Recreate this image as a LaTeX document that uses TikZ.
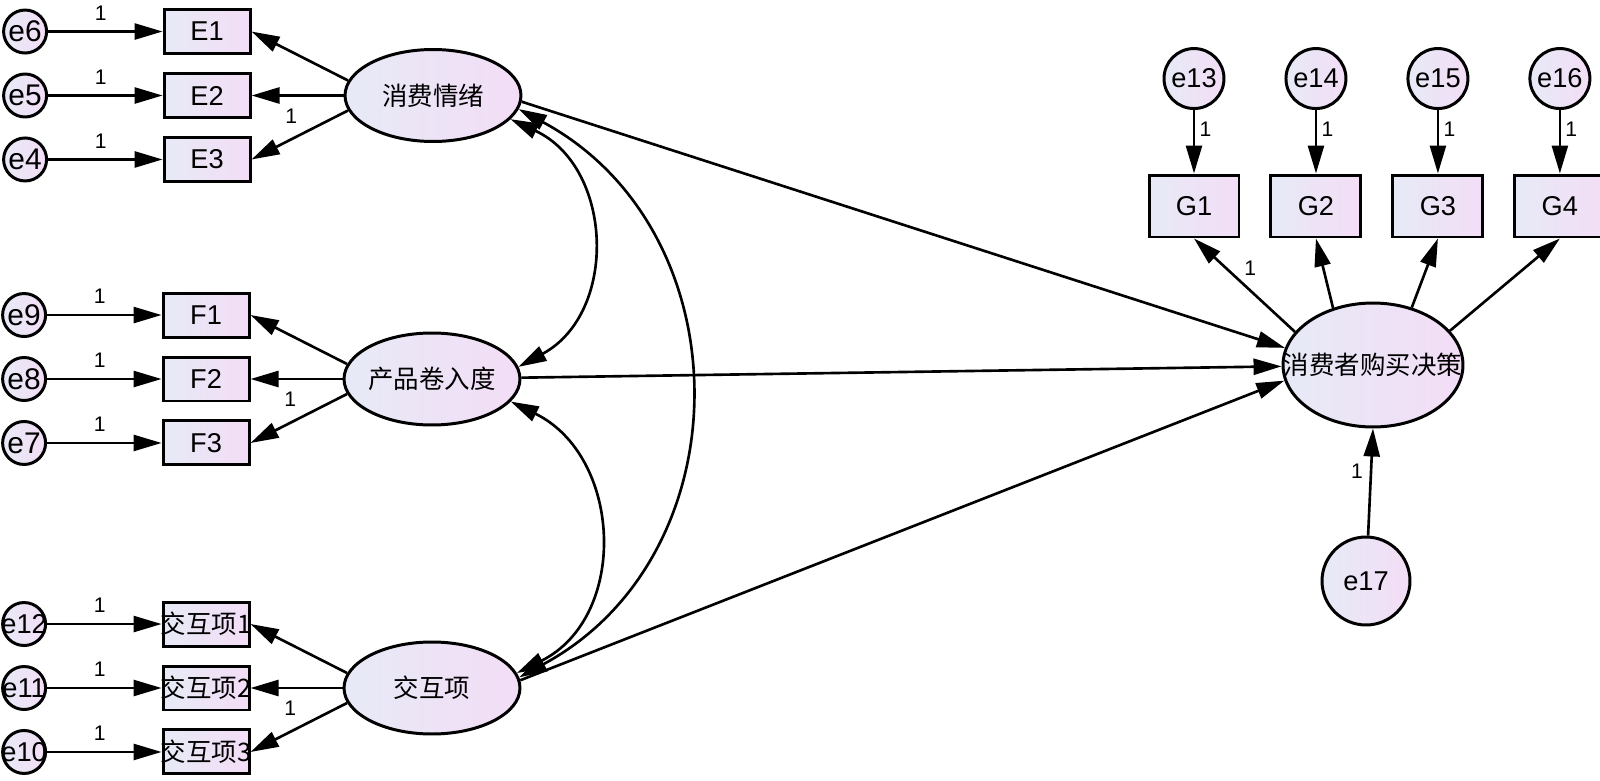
\documentclass[tikz,border=0pt]{standalone}
\usepackage{fontspec}
\setmainfont{Liberation Sans}
\newfontfamily\cjk{Noto Sans CJK SC}
\usepackage{tikz}
\usetikzlibrary{arrows.meta,positioning,shapes.geometric}
\definecolor{shadeL}{RGB}{231,234,246}
\definecolor{shadeR}{RGB}{243,221,246}
\newcommand{\fixw}[1]{\makebox[0pt]{#1}}

\begin{document}
\begin{tikzpicture}[
  x=0.02cm, y=-0.02cm,
  node distance=3.4mm,
  >={Triangle[length=5.6mm,width=3.2mm]},
  font=\fontsize{15.5}{15.5}\selectfont,
  amos/.style={draw, line width=1.7pt, left color=shadeL, right color=shadeR},
  obs/.style={amos, rectangle, minimum width=1.72cm, minimum height=0.88cm, inner sep=0pt},
  obsg/.style={amos, rectangle, minimum width=1.8cm, minimum height=1.24cm, inner sep=0pt},
  lat/.style={amos, ellipse, minimum width=3.52cm, minimum height=1.84cm, inner sep=0pt, font=\cjk\fontsize{14.5}{14.5}\selectfont},
  err/.style={amos, circle, minimum size=0.86cm, inner sep=0pt},
  big/.style={font=\fontsize{17}{17}\selectfont},
  arr/.style={->, line width=1.5pt},
  cov/.style={<->, line width=1.5pt},
  one/.style={font=\fontsize{12}{12}\selectfont, inner sep=1pt}
]
\useasboundingbox (0,0) rectangle (1600,781);

\node[lat] (qx) at (433,95.5) {\fixw{消费情绪}};
\node[lat] (jr) at (432,379) {\fixw{产品卷入度}};
\node[lat] (jh) at (432,688) {\fixw{交互项}};
\node[lat, minimum width=3.6cm, minimum height=2.48cm] (jc) at (1373,365) {\fixw{消费者购买决策}};

\node[obs, left=1.84cm of qx] (E2) {E2};
\node[obs, above=of E2] (E1) {E1};
\node[obs, below=of E2] (E3) {E3};
\node[obs, left=1.84cm of jr] (F2) {F2};
\node[obs, above=of F2] (F1) {F1};
\node[obs, below=of F2] (F3) {F3};
\node[obs, font=\cjk\fontsize{14.5}{14.5}\selectfont, left=1.84cm of jh] (J2) {\fixw{交互项2}};
\node[obs, font=\cjk\fontsize{14.5}{14.5}\selectfont, above=of J2] (J1) {\fixw{交互项1}};
\node[obs, font=\cjk\fontsize{14.5}{14.5}\selectfont, below=of J2] (J3) {\fixw{交互项3}};

\node[err, big, left=2.29cm of E1] (e6) {\fixw{e6}};
\node[err, big, left=2.29cm of E2] (e5) {\fixw{e5}};
\node[err, big, left=2.29cm of E3] (e4) {\fixw{e4}};
\node[err, big, left=2.29cm of F1] (e9) {\fixw{e9}};
\node[err, big, left=2.29cm of F2] (e8) {\fixw{e8}};
\node[err, big, left=2.29cm of F3] (e7) {\fixw{e7}};
\node[err, left=2.29cm of J1] (e12) {\fixw{e12}};
\node[err, left=2.29cm of J2] (e11) {\fixw{e11}};
\node[err, left=2.29cm of J3] (e10) {\fixw{e10}};

\node[obsg] (G1) at (1194,206) {G1};
\node[obsg, right=5.8mm of G1] (G2) {G2};
\node[obsg, right=5.8mm of G2] (G3) {G3};
\node[obsg, right=5.8mm of G3] (G4) {G4};
\node[err, minimum size=1.2cm, above=12.7mm of G1] (e13) {\fixw{e13}};
\node[err, minimum size=1.2cm, above=12.7mm of G2] (e14) {\fixw{e14}};
\node[err, minimum size=1.2cm, above=12.7mm of G3] (e15) {\fixw{e15}};
\node[err, minimum size=1.2cm, above=12.7mm of G4] (e16) {\fixw{e16}};
\node[err, minimum size=1.76cm] (e17) at (1366,581) {\fixw{e17}};

\draw[arr] (e6) -- (E1) node[one, pos=.46, above=1.6mm] {1};
\draw[arr] (e5) -- (E2) node[one, pos=.46, above=1.6mm] {1};
\draw[arr] (e4) -- (E3) node[one, pos=.46, above=1.6mm] {1};
\draw[arr] (e9) -- (F1) node[one, pos=.46, above=1.6mm] {1};
\draw[arr] (e8) -- (F2) node[one, pos=.46, above=1.6mm] {1};
\draw[arr] (e7) -- (F3) node[one, pos=.46, above=1.6mm] {1};
\draw[arr] (e12) -- (J1) node[one, pos=.46, above=1.6mm] {1};
\draw[arr] (e11) -- (J2) node[one, pos=.46, above=1.6mm] {1};
\draw[arr] (e10) -- (J3) node[one, pos=.46, above=1.6mm] {1};

\draw[arr] (qx.170) -- (E1.east);
\draw[arr] (qx) -- (E2);
\draw[arr] (qx.190) -- (E3.east) node[one, pos=.59, above=2.6mm] {1};
\draw[arr] (jr.170) -- (F1.east);
\draw[arr] (jr) -- (F2);
\draw[arr] (jr.190) -- (F3.east) node[one, pos=.59, above=2.6mm] {1};
\draw[arr] (jh.170) -- (J1.east);
\draw[arr] (jh) -- (J2);
\draw[arr] (jh.190) -- (J3.east) node[one, pos=.59, above=2.6mm] {1};

\draw[cov] (qx.-17) .. controls +(103,48) and +(100,-54) .. (jr.8);
\draw[cov] (jr.-16) .. controls +(112,55) and +(112,-56) .. (jh.10);
\draw[cov] (qx.-9) .. controls +(226,122) and +(226,-122) .. (jh.7);

\draw[arr] (qx.-4) -- (jc.169);
\draw[arr] (jr) -- (jc);
\draw[arr] (jh.5) -- (jc.190);

\draw[arr] (jc.157) -- (G1.south) node[one, pos=.55, above right=0.5mm] {1};
\draw[arr] (jc.125) -- (G2.south);
\draw[arr] (jc.56) -- (G3.south);
\draw[arr] (jc.24) -- (G4.south);
\draw[arr] (e13) -- (G1) node[one, pos=.3, right=0.5mm] {1};
\draw[arr] (e14) -- (G2) node[one, pos=.3, right=0.5mm] {1};
\draw[arr] (e15) -- (G3) node[one, pos=.3, right=0.5mm] {1};
\draw[arr] (e16) -- (G4) node[one, pos=.3, right=0.5mm] {1};
\draw[arr] (e17) -- (jc.south) node[one, pos=.6, left=1mm] {1};
\end{tikzpicture}
\end{document}
